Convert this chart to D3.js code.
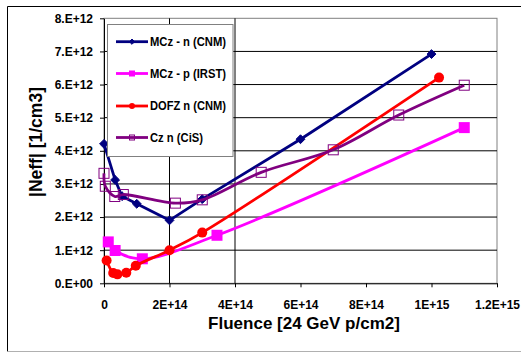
<!DOCTYPE html>
<html>
<head>
<meta charset="utf-8">
<script src="https://cdn.jsdelivr.net/npm/d3@7"></script>
<style>
  html, body { margin: 0; padding: 0; background: #fff; }
  svg { display: block; font-family: Arial, "Liberation Sans", sans-serif; }
</style>
</head>
<body>
<svg id="chart" width="521" height="352"></svg>
<script>
// Effective doping |Neff| versus fluence for several silicon materials
const seriesNames = ["MCz - n (CNM)", "MCz - p (IRST)", "DOFZ n (CNM)", "Cz n (CiS)"];
const seriesColors = ["#000080", "#ff00ff", "#ff0000", "#800080"];
const seriesMarkers = ["diamond", "square", "circle", "openSquare"];
const seriesSmooth = [false, true, true, true];

const mczNFluence = [0, 3.4e13, 5.5e13, 1.0e14, 2.0e14, 3.0e14, 6.0e14, 1.0e15];
const mczNNeff    = [4.21e12, 3.12e12, 2.63e12, 2.4e12, 1.9e12, 2.54e12, 4.35e12, 6.92e12];

const mczPFluence = [1.3e13, 3.4e13, 1.17e14, 3.45e14, 1.1e15];
const mczPNeff    = [1.25e12, 0.99e12, 0.74e12, 1.45e12, 4.7e12];

const dofzFluence = [8e12, 2.8e13, 4.1e13, 6.8e13, 9.7e13, 2.0e14, 3.0e14, 1.023e15];
const dofzNeff    = [0.69e12, 0.31e12, 0.27e12, 0.32e12, 0.53e12, 1.0e12, 1.53e12, 6.21e12];

const czFluence = [0, 4e12, 3.3e13, 5.9e13, 2.18e14, 3.0e14, 4.8e14, 7.0e14, 9.0e14, 1.1e15];
const czNeff    = [3.32e12, 2.93e12, 2.62e12, 2.68e12, 2.42e12, 2.52e12, 3.35e12, 4.03e12, 5.08e12, 5.98e12];

const xTickValues = [0, 2e14, 4e14, 6e14, 8e14, 1e15, 1.2e15];
const xTickLabels = ["0", "2E+14", "4E+14", "6E+14", "8E+14", "1E+15", "1.2E+15"];
const yTickValues = [0, 1e12, 2e12, 3e12, 4e12, 5e12, 6e12, 7e12, 8e12];
const yTickLabels = ["0.E+00", "1.E+12", "2.E+12", "3.E+12", "4.E+12", "5.E+12", "6.E+12", "7.E+12", "8.E+12"];
const xGridValues = [2e14, 4e14];

const xTitle = "Fluence [24 GeV p/cm2]";
const yTitle = "|Neff| [1/cm3]";

const seriesData = [
  d3.zip(mczNFluence, mczNNeff),
  d3.zip(mczPFluence, mczPNeff),
  d3.zip(dofzFluence, dofzNeff),
  d3.zip(czFluence, czNeff)
];

const svg = d3.select("#chart");
const plot = { left: 104, right: 497, top: 18.3, bottom: 283.3 };

const x = d3.scaleLinear().domain([0, 1.2e15]).range([plot.left, plot.right]);
const y = d3.scaleLinear().domain([0, 8e12]).range([plot.bottom, plot.top]);

// outer chart frame
svg.append("line").attr("x1", 7.5).attr("x2", 521).attr("y1", 6.5).attr("y2", 6.5)
  .attr("stroke", "#000").attr("stroke-width", 1);
svg.append("line").attr("x1", 7.5).attr("x2", 7.5).attr("y1", 6.5).attr("y2", 351.5)
  .attr("stroke", "#000").attr("stroke-width", 1);
svg.append("line").attr("x1", 7.5).attr("x2", 521).attr("y1", 351.5).attr("y2", 351.5)
  .attr("stroke", "#b0b0b0").attr("stroke-width", 1);

// plot area border
svg.append("rect")
  .attr("x", plot.left).attr("y", plot.top)
  .attr("width", plot.right - plot.left).attr("height", plot.bottom - plot.top)
  .attr("fill", "#fff").attr("stroke", "#808080").attr("stroke-width", 1);

// gridlines
svg.append("g").selectAll("line").data(yTickValues.filter(v => v > 0 && v < 8e12)).join("line")
  .attr("x1", plot.left).attr("x2", plot.right)
  .attr("y1", d => y(d)).attr("y2", d => y(d))
  .attr("stroke", "#000").attr("stroke-width", 1);
svg.append("g").selectAll("line").data(xGridValues).join("line")
  .attr("x1", d => x(d)).attr("x2", d => x(d))
  .attr("y1", plot.top).attr("y2", plot.bottom)
  .attr("stroke", "#000").attr("stroke-width", 1);

// axes
const xAxis = d3.axisBottom(x).tickValues(xTickValues)
  .tickFormat((d, i) => xTickLabels[i]).tickSize(4).tickPadding(13.5).tickSizeOuter(0);
const yAxis = d3.axisLeft(y).tickValues(yTickValues)
  .tickFormat((d, i) => yTickLabels[i]).tickSize(4).tickPadding(7).tickSizeOuter(0);

const gx = svg.append("g").attr("transform", `translate(0,${plot.bottom})`).call(xAxis);
const gy = svg.append("g").attr("transform", `translate(${plot.left},0)`).call(yAxis);
[gx, gy].forEach(g => {
  g.select(".domain").attr("stroke", "#000");
  g.selectAll(".tick line").attr("stroke", "#000");
  g.selectAll("text").attr("font-size", 12).attr("font-weight", "bold")
    .attr("font-family", "Arial, 'Liberation Sans', sans-serif").attr("fill", "#000");
});

// axis titles
svg.append("text").attr("x", 304).attr("y", 329.3).attr("text-anchor", "middle")
  .attr("font-size", 17).attr("font-weight", "bold").text(xTitle);
svg.append("text").attr("transform", "translate(42,142) rotate(-90)").attr("text-anchor", "middle")
  .attr("font-size", 17.5).attr("font-weight", "bold").text(yTitle);

// marker drawing
function drawMarker(g, type, color, size) {
  if (type === "diamond") {
    g.append("path").attr("d", d3.symbol(d3.symbolDiamond2, size * size * 0.5)())
      .attr("fill", color).attr("stroke", color).attr("stroke-width", 1);
  } else if (type === "square") {
    g.append("rect").attr("x", -size / 2).attr("y", -size / 2).attr("width", size).attr("height", size)
      .attr("fill", color);
  } else if (type === "circle") {
    g.append("circle").attr("r", size / 2).attr("fill", color);
  } else if (type === "openSquare") {
    g.append("rect").attr("x", -size / 2 + 0.5).attr("y", -size / 2 + 0.5)
      .attr("width", size - 1).attr("height", size - 1)
      .attr("fill", "none").attr("stroke", color).attr("stroke-width", 1);
  }
}

const markerSizes = [10, 11, 10, 11];

// series lines and markers
seriesData.forEach((data, i) => {
  const line = d3.line()
    .x(d => x(d[0])).y(d => y(d[1]))
    .curve(seriesSmooth[i] ? d3.curveCatmullRom.alpha(0.5) : d3.curveLinear);
  const g = svg.append("g");
  g.append("path").datum(data).attr("d", line)
    .attr("fill", "none").attr("stroke", seriesColors[i]).attr("stroke-width", 2.8)
    .attr("stroke-linejoin", "round");
  data.forEach(d => {
    const m = g.append("g").attr("transform", `translate(${x(d[0])},${y(d[1])})`);
    drawMarker(m, seriesMarkers[i], seriesColors[i], markerSizes[i]);
  });
});

// legend
const legend = svg.append("g");
legend.append("rect").attr("x", 107.5).attr("y", 24.5).attr("width", 125.5).attr("height", 132)
  .attr("fill", "#fff").attr("stroke", "#808080").attr("stroke-width", 1);
const legendY = [41.7, 73.5, 106, 137.5];
const legendTextWidths = [76, 76, 76, 53];
seriesNames.forEach((name, i) => {
  const ly = legendY[i];
  legend.append("line").attr("x1", 116).attr("x2", 148).attr("y1", ly).attr("y2", ly)
    .attr("stroke", seriesColors[i]).attr("stroke-width", 2.8);
  const m = legend.append("g").attr("transform", `translate(132,${ly})`);
  drawMarker(m, seriesMarkers[i], seriesColors[i], 6);
  legend.append("text").attr("x", 150).attr("y", ly + 4.2)
    .attr("font-size", 12).attr("font-weight", "bold").attr("textLength", legendTextWidths[i])
    .attr("lengthAdjust", "spacingAndGlyphs").text(name);
});
</script>
</body>
</html>
